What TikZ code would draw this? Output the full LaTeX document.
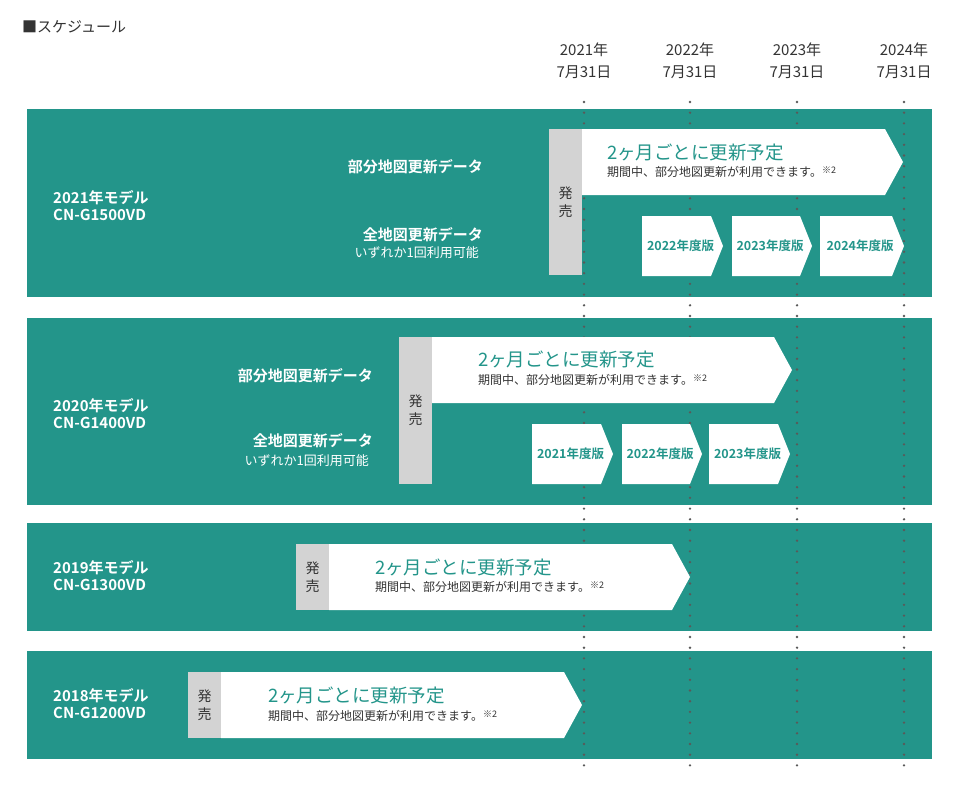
\documentclass[tikz,border=0pt]{standalone}
\usepackage{fontspec}
\setmainfont{Noto Sans CJK JP}
\newfontfamily\jpb{Noto Sans CJK JP Bold}
\definecolor{teal1}{HTML}{23958A}
\definecolor{gray1}{HTML}{D3D3D3}
\definecolor{txt}{HTML}{333333}
\begin{document}
\begin{tikzpicture}[x=1pt,y=-1pt,
  band/.style={fill=teal1,draw=none},
  wt/.style={text=white,font=\jpb\fontsize{15}{17}\selectfont,inner sep=0pt},
  wts/.style={text=white,font=\fontsize{13}{15}\selectfont,inner sep=0pt},
  hdr/.style={text=txt,font=\fontsize{15}{17}\selectfont,inner sep=0pt},
  big/.style={text=teal1,font=\fontsize{18.5}{20}\selectfont,anchor=west,inner sep=0pt},
  sml/.style={text=txt,font=\fontsize{12}{14}\selectfont,anchor=west,inner sep=0pt},
  chv/.style={text=teal1,font=\jpb\fontsize{12.5}{14}\selectfont,inner sep=0pt},
  dots/.style={draw=black!65,line width=2.6pt,line cap=round,dash pattern=on 0pt off 10.7pt}]
\useasboundingbox (0,0) rectangle (960,790);
\node[hdr,anchor=west] (title) at (22,27) {■スケジュール};
\foreach \x/\y [count=\i] in {584/2021,690/2022,797/2023,904/2024}{
  \node[hdr] (yh\i) at (\x,50) {\y 年};
  \node[hdr] (dh\i) at (\x,72) {7月31日};
}
% bands
\fill[band] (27,109) rectangle (932,297);
\fill[band] (27,318) rectangle (932,505);
\fill[band] (27,523) rectangle (932,631);
\fill[band] (27,651) rectangle (932,759);
% dotted lines
\foreach \x in {584,690,797,904}{ \draw[dots] (\x,102) -- (\x,775); }
% macros for shapes
\newcommand{\bigarrow}[4]{% x1,x2tip,y1,y2
  \fill[white] (#1,#3) -- ({#2-18},#3) -- (#2,{(#3+#4)/2}) -- ({#2-18},#4) -- (#1,#4) -- cycle;}
\newcommand{\chev}[6]{% x1,x2tip,y1,y2,name,text
  \fill[white] (#1,#3) -- ({#2-12},#3) -- (#2,{(#3+#4)/2}) -- ({#2-12},#4) -- (#1,#4) -- cycle;
  \node[chv] (#5) at ({(#1+#2)/2-2},{(#3+#4)/2}) {#6};}
\newcommand{\hatsu}[5]{% x1,x2,y1,y2,name
  \fill[gray1] (#1,#3) rectangle (#2,#4);
  \node[text=txt,font=\fontsize{14}{18}\selectfont,align=center,inner sep=0pt] (#5) at ({(#1+#2)/2},{(#3+#4)/2}) {発\\売};}
% Band 1
\node[wt,anchor=west,align=left] (m1) at (53,206) {2021年モデル\\CN-G1500VD};
\node[wt,anchor=east] (p1) at (483,167) {部分地図更新データ};
\node[wt,anchor=east] (f1) at (483,235) {全地図更新データ};
\node[wts,anchor=east] (o1) at (479,253) {いずれか1回利用可能};
\hatsu{549}{582}{129}{275}{h1}
\bigarrow{582}{903}{129}{195}
\node[big] (a1) at (607,152) {2ヶ月ごとに更新予定};
\node[sml] (s1) at (607,172) {期間中、部分地図更新が利用できます。\raisebox{3pt}{\fontsize{9}{9}\selectfont ※2}};
\chev{642}{723}{216}{276}{c11}{2022年度版}
\chev{732}{812}{216}{276}{c12}{2023年度版}
\chev{820}{904}{216}{276}{c13}{2024年度版}
% Band 2
\node[wt,anchor=west,align=left] (m2) at (53,414) {2020年モデル\\CN-G1400VD};
\node[wt,anchor=east] (p2) at (373,376) {部分地図更新データ};
\node[wt,anchor=east] (f2) at (373,441) {全地図更新データ};
\node[wts,anchor=east] (o2) at (369,461) {いずれか1回利用可能};
\hatsu{399}{432}{337}{484}{h2}
\bigarrow{432}{792}{337}{403}
\node[big] (a2) at (478,359) {2ヶ月ごとに更新予定};
\node[sml] (s2) at (478,380) {期間中、部分地図更新が利用できます。\raisebox{3pt}{\fontsize{9}{9}\selectfont ※2}};
\chev{532}{613}{424}{484}{c21}{2021年度版}
\chev{622}{702}{424}{484}{c22}{2022年度版}
\chev{709}{790}{424}{484}{c23}{2023年度版}
% Band 3
\node[wt,anchor=west,align=left] (m3) at (53,576) {2019年モデル\\CN-G1300VD};
\hatsu{296}{329}{544}{610}{h3}
\bigarrow{329}{690}{544}{610}
\node[big] (a3) at (375,567) {2ヶ月ごとに更新予定};
\node[sml] (s3) at (375,587) {期間中、部分地図更新が利用できます。\raisebox{3pt}{\fontsize{9}{9}\selectfont ※2}};
% Band 4
\node[wt,anchor=west,align=left] (m4) at (53,704) {2018年モデル\\CN-G1200VD};
\hatsu{188}{221}{672}{738}{h4}
\bigarrow{221}{582}{672}{738}
\node[big] (a4) at (268,695) {2ヶ月ごとに更新予定};
\node[sml] (s4) at (268,716) {期間中、部分地図更新が利用できます。\raisebox{3pt}{\fontsize{9}{9}\selectfont ※2}};
\end{tikzpicture}
\end{document}
